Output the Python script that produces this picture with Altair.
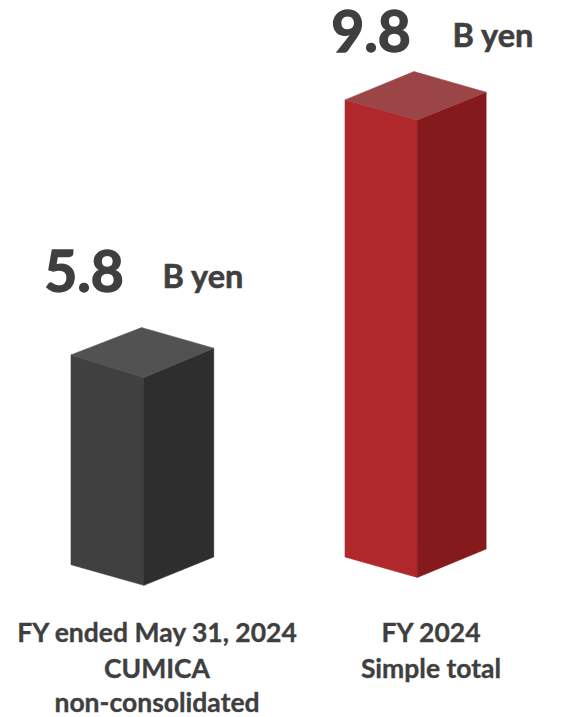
import altair as alt
import numpy as np
import pandas as pd

# Billions of yen shown above each column
values = [5.8, 9.8]
value_labels = ["5.8", "9.8"]
unit_label = "B yen"
category_lines = [
    ["FY ended May 31, 2024", "CUMICA", "non-consolidated"],
    ["FY 2024", "Simple total"],
]

# Columns stand on a raised floor, so their feet sit above the axis origin
base_values = [2.51, 2.63]

# Isometric box proportions, per column (x in category units, y in value units)
front_width = [0.266, 0.264]
side_width = [0.255, 0.251]
back_shift = [0.258, 0.252]
top_front_drop = [0.356, 0.314]
top_right_rise = [0.105, 0.121]
top_back_rise = [0.428, 0.444]
foot_front_drop = [0.325, 0.320]
foot_right_rise = [0.121, 0.125]

front_colors = ["#404040", "#b0282b"]
side_colors = ["#2e2e2e", "#851a1c"]
top_colors = ["#525252", "#9c4546"]

TEXT_COLOR = "#3f3f3f"
FONT = "Lato"

rows = []
for i, v in enumerate(values):
    left = float(i)
    front = left + front_width[i]
    right = front + side_width[i]
    back = left + back_shift[i]
    base = base_values[i]

    t_front = v - top_front_drop[i]
    t_right = v + top_right_rise[i]
    t_back = v + top_back_rise[i]
    f_front = base - foot_front_drop[i]
    f_right = base + foot_right_rise[i]

    # Two visible walls
    rows += [
        dict(face=f"front{i}", tone=front_colors[i], px=left, low=base, high=v),
        dict(face=f"front{i}", tone=front_colors[i], px=front, low=f_front, high=t_front),
        dict(face=f"side{i}", tone=side_colors[i], px=front, low=f_front, high=t_front),
        dict(face=f"side{i}", tone=side_colors[i], px=right, low=f_right, high=t_right),
    ]

    # Lid: upper edge runs through the back corner, lower edge through the front one
    xs = [left, back, front, right]
    upper = np.interp(xs, [left, back, right], [v, t_back, t_right])
    lower = np.interp(xs, [left, front, right], [v, t_front, t_right])
    for x, u, l in zip(xs, upper, lower):
        rows.append(dict(face=f"top{i}", tone=top_colors[i], px=x, low=float(l), high=float(u)))

faces = pd.DataFrame(rows)

x_scale = alt.Scale(domain=[-0.2591, 1.8102], nice=False, zero=False)
y_scale = alt.Scale(domain=[0.12, 11.367], nice=False, zero=False)

# One area per visible face of each box; a thin outline closes the seams between faces
box_layers = [
    alt.Chart(faces[faces["face"] == name])
    .mark_area(
        orient="vertical",
        interpolate="linear",
        color=group["tone"].iloc[0],
        stroke=group["tone"].iloc[0],
        strokeWidth=0.6,
    )
    .encode(
        x=alt.X("px:Q", scale=x_scale, axis=None),
        y=alt.Y("high:Q", scale=y_scale, axis=None),
        y2="low:Q",
    )
    for name, group in faces.groupby("face", sort=False)
]


def text_mark(label, cx, baseline_y, size, weight):
    return (
        alt.Chart(pd.DataFrame({"label": [label]}))
        .mark_text(
            font=FONT,
            fontWeight="bold",
            fontSize=size,
            color=TEXT_COLOR,
            stroke=TEXT_COLOR,
            strokeWidth=weight,
            align="center",
            baseline="alphabetic",
        )
        .encode(text="label:N", x=alt.value(cx), y=alt.value(baseline_y))
    )


text_layers = [
    text_mark(value_labels[0], 84, 292, 57, 1.4),
    text_mark(value_labels[1], 371, 52, 57, 1.4),
    text_mark(unit_label, 203, 288, 32.5, 0.6),
    text_mark(unit_label, 493, 47, 32.5, 0.6),
    text_mark(category_lines[0][0], 157, 642, 26.5, 0.35),
    text_mark(category_lines[0][1], 157, 678, 26.5, 0.35),
    text_mark(category_lines[0][2], 157, 712, 26.5, 0.35),
    text_mark(category_lines[1][0], 431, 642, 26.5, 0.35),
    text_mark(category_lines[1][1], 431, 678, 26.5, 0.35),
]

chart = (
    alt.layer(*box_layers, *text_layers)
    .properties(
        width=567,
        height=717,
        padding=0,
        autosize=alt.AutoSizeParams(type="none"),
        background="white",
    )
    .configure_view(stroke=None)
)

chart.save("out.html", embed_options={"renderer": "svg", "actions": False})
